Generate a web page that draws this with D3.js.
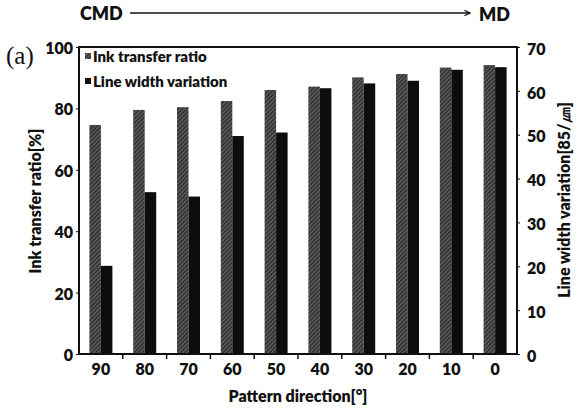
<!DOCTYPE html>
<html lang="en">
<head>
<meta charset="UTF-8">
<title>Ink transfer ratio / Line width variation</title>
<script src="https://d3js.org/d3.v7.min.js"></script>
<style>
    body{ margin:0; background:#fff; }
    #canvas text{ font-family: Lato, "Noto Sans", sans-serif; font-weight:800; fill:#111; }
    .axis path, .axis line{ stroke:#111; }
    .axis text{ font-size:16px; }
</style>
</head>
<body>
<svg id="canvas" width="581" height="413"></svg>
<script>
    // data
    let directions = ["90","80","70","60","50","40","30","20","10","0"]
    let inkTransfer = [74.6, 79.5, 80.4, 82.4, 86.0, 87.1, 90.1, 91.2, 93.3, 94.1]
    let lineWidth = [20.1, 36.9, 35.9, 49.7, 50.5, 60.6, 61.7, 62.3, 64.8, 65.4]
    let series = ["ink","lw"]
    let seriesNames = ["Ink transfer ratio","Line width variation"]
    let leftTicks = [0,20,40,60,80,100]
    let rightTicks = [0,10,20,30,40,50,60,70]

    let svg = d3.select("#canvas")
    let plotLeft = 79, plotRight = 517, plotTop = 47, plotBottom = 354

    let defs = svg.append("defs")
    let pat = defs.append("pattern").attr("id","hatch")
        .attr("patternUnits","userSpaceOnUse").attr("width",3).attr("height",3)
        .attr("patternTransform","rotate(45)")
    pat.append("rect").attr("width",3).attr("height",3).attr("fill","#363636")
    pat.append("line").attr("x1",0).attr("y1",0).attr("x2",0).attr("y2",3)
        .attr("stroke","#8e8e8e").attr("stroke-width",1.1)

    let x = d3.scaleBand().domain(directions).range([plotLeft,plotRight])
        .paddingInner(0.475).paddingOuter(0.2375)
    let xs = d3.scaleBand().domain(series).range([0,x.bandwidth()])
    let yL = d3.scaleLinear().domain([0,100]).range([plotBottom,plotTop])
    let yR = d3.scaleLinear().domain([0,70]).range([plotBottom,plotTop])

    let rows = directions.map((d,i) => ({dir:d, ink:inkTransfer[i], lw:lineWidth[i]}))

    let bars = svg.append("g")
    bars.selectAll("rect.ink").data(rows).enter().append("rect")
        .attr("x",d => x(d.dir)+xs("ink"))
        .attr("width",xs.bandwidth())
        .attr("y",d => yL(d.ink))
        .attr("height",d => plotBottom-yL(d.ink))
        .attr("fill","url(#hatch)")
    bars.selectAll("rect.lw").data(rows).enter().append("rect")
        .attr("x",d => x(d.dir)+xs("lw"))
        .attr("width",xs.bandwidth())
        .attr("y",d => yR(d.lw))
        .attr("height",d => plotBottom-yR(d.lw))
        .attr("fill","#0d0d0d")

    // frame
    svg.append("rect").attr("x",plotLeft).attr("y",plotTop)
        .attr("width",plotRight-plotLeft).attr("height",plotBottom-plotTop)
        .attr("fill","none").attr("stroke","#111").attr("stroke-width",2)

    // x axis: labels under groups, ticks on group boundaries
    let xAxis = svg.append("g").attr("class","axis")
        .attr("transform",`translate(0,${plotBottom})`)
        .call(d3.axisBottom(x).tickSize(0).tickPadding(10))
    xAxis.select(".domain").remove()
    let gap = x.step()*x.paddingInner()/2
    svg.append("g").selectAll("line").data(directions.slice(1)).enter().append("line")
        .attr("x1",d => x(d)-gap).attr("x2",d => x(d)-gap)
        .attr("y1",plotBottom).attr("y2",plotBottom+5)
        .attr("stroke","#111").attr("stroke-width",1.5)

    let yAxisL = svg.append("g").attr("class","axis")
        .attr("transform",`translate(${plotLeft},0)`)
        .call(d3.axisLeft(yL).tickValues(leftTicks).tickSize(3).tickPadding(3))
    yAxisL.select(".domain").remove()
    let yAxisR = svg.append("g").attr("class","axis")
        .attr("transform",`translate(${plotRight},0)`)
        .call(d3.axisRight(yR).tickValues(rightTicks).tickSize(3).tickPadding(7))
    yAxisR.select(".domain").remove()
    yAxisL.selectAll("text").attr("dy","0.4em")
    yAxisR.selectAll("text").attr("dy","0.45em")

    // axis titles
    svg.append("text").attr("x",298).attr("y",402).attr("text-anchor","middle")
        .style("font-size","16px").text("Pattern direction[°]")
    svg.append("text").attr("transform","translate(41,201) rotate(-90)")
        .attr("text-anchor","middle").style("font-size","16px").text("Ink transfer ratio[%]")
    svg.append("text").attr("transform","translate(570,200) rotate(-90)")
        .attr("text-anchor","middle").style("font-size","16px").text("Line width variation[85/㎛]")

    // legend
    let legend = svg.append("g").attr("transform",`translate(${plotLeft+6},${plotTop+4})`)
    seriesNames.forEach(function(name,i){
        let g = legend.append("g").attr("transform",`translate(0,${i*25})`)
        g.append("rect").attr("x",0).attr("y",2).attr("width",6).attr("height",6)
            .attr("fill",i==0 ? "url(#hatch)" : "#111")
        g.append("text").attr("x",8).attr("y",11).style("font-size","15px").text(name)
    })

    // CMD -> MD arrow
    svg.append("text").attr("x",80).attr("y",20).style("font-size","18px").text("CMD")
    svg.append("text").attr("x",479).attr("y",21).style("font-size","18px").text("MD")
    defs.append("marker").attr("id","arrow").attr("viewBox","0 0 10 10")
        .attr("refX",9).attr("refY",5).attr("markerWidth",7).attr("markerHeight",7)
        .attr("orient","auto").attr("markerUnits","userSpaceOnUse")
        .append("path").attr("d","M1,1 L9,5 L1,9").attr("fill","none")
        .attr("stroke","#111").attr("stroke-width",1.6)
    svg.append("line").attr("x1",130).attr("x2",470).attr("y1",13).attr("y2",13)
        .attr("stroke","#111").attr("stroke-width",1.6).attr("marker-end","url(#arrow)")

    svg.append("text").attr("x",6).attr("y",64)
        .style("font-family","'Liberation Serif', serif").style("font-weight","400")
        .style("font-size","25px").text("(a)")
</script>
</body>
</html>
